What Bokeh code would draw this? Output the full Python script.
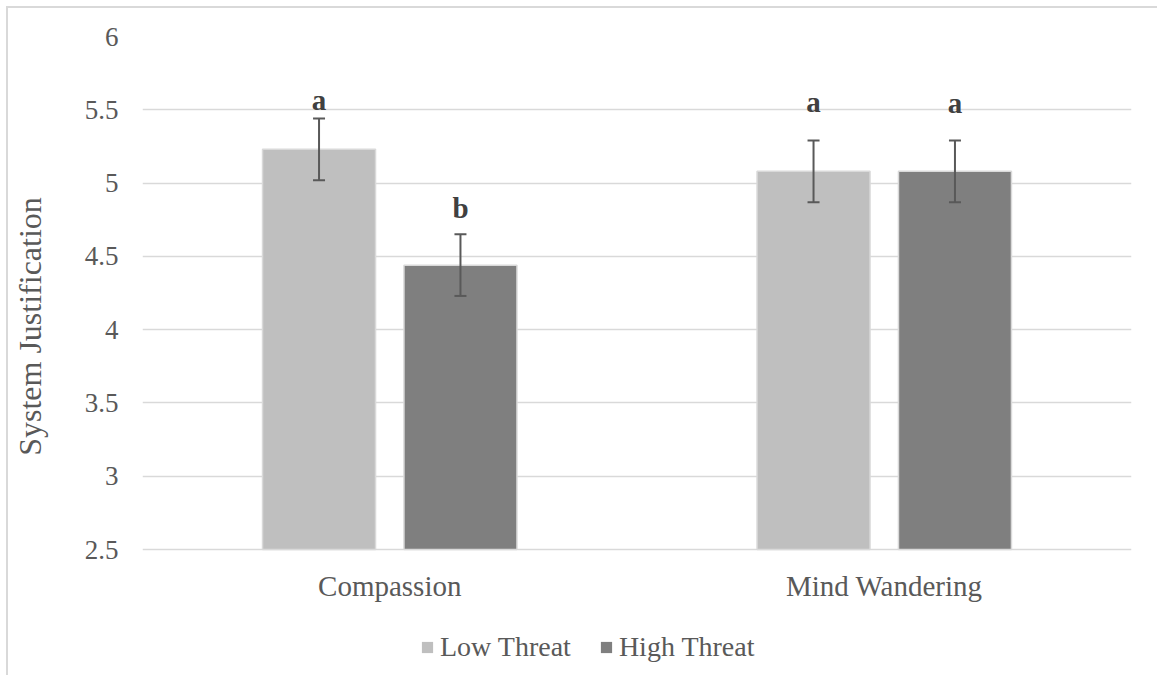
from bokeh.plotting import figure
from bokeh.layouts import column
from bokeh.models import ColumnDataSource, FixedTicker, Legend, LegendItem, Whisker, TeeHead, FactorRange, Range1d, NumeralTickFormatter
from bokeh.transform import dodge
from bokeh.core.properties import value
from bokeh.embed import file_html
from bokeh.resources import INLINE

# ---- data ----
categories = ["Compassion", "Mind Wandering"]
series = ["Low Threat", "High Threat"]
low_threat = [5.23, 5.08]
high_threat = [4.44, 5.08]
low_err = [0.21, 0.21]
high_err = [0.21, 0.21]
low_letters = ["a", "a"]
high_letters = ["b", "a"]
low_letter_y = [5.57, 5.556]
high_letter_y = [4.833, 5.543]
y_ticks = [2.5, 3, 3.5, 4, 4.5, 5, 5.5, 6]
y_axis_min = 2.5
y_axis_max = 6

FONT = "Liberation Serif"
TXT = "#595959"
LOW_C = "#BFBFBF"
HIGH_C = "#7F7F7F"
OFF = 0.143
BW = 0.2285

src_low = ColumnDataSource(dict(cat=categories, val=low_threat,
                                upper=[v + e for v, e in zip(low_threat, low_err)],
                                lower=[v - e for v, e in zip(low_threat, low_err)],
                                letter=low_letters, ly=low_letter_y))
src_high = ColumnDataSource(dict(cat=categories, val=high_threat,
                                 upper=[v + e for v, e in zip(high_threat, high_err)],
                                 lower=[v - e for v, e in zip(high_threat, high_err)],
                                 letter=high_letters, ly=high_letter_y))

# frame: top at 36px, 2.5 at 549px, frame extends to 616px (room for category labels)
px_per_unit = (549 - 36) / (y_axis_max - y_axis_min)
frame_bottom_val = y_axis_min - (616 - 549) / px_per_unit

p = figure(width=1149, height=610, x_range=FactorRange(*categories),
           y_range=Range1d(frame_bottom_val, y_axis_max), output_backend="svg",
           toolbar_location=None, x_axis_type=None,
           min_border_left=134, min_border_right=26, min_border_top=28, min_border_bottom=2)
p.outline_line_color = None
p.background_fill_color = "white"
p.border_fill_color = "white"

r_low = p.vbar(x=dodge("cat", -OFF, range=p.x_range), top="val", bottom=y_axis_min, width=BW,
               source=src_low, fill_color=LOW_C, line_color="#D9D9D9", line_width=1.5)
r_high = p.vbar(x=dodge("cat", OFF, range=p.x_range), top="val", bottom=y_axis_min, width=BW,
                source=src_high, fill_color=HIGH_C, line_color="#D9D9D9", line_width=1.5)

for src, off in ((src_low, -OFF), (src_high, OFF)):
    w = Whisker(source=src, base=dodge("cat", off, range=p.x_range), upper="upper", lower="lower",
                line_color="#595959", line_width=2, level="overlay",
                upper_head=TeeHead(size=12, line_color="#595959", line_width=2),
                lower_head=TeeHead(size=12, line_color="#595959", line_width=2))
    p.add_layout(w)
    p.text(x=dodge("cat", off, range=p.x_range), y="ly", text="letter", source=src,
           text_align="center", text_baseline="alphabetic", text_font=value(FONT),
           text_font_style="bold", text_font_size="29px", text_color="#404040")

# category labels below the baseline
p.text(x=categories, y=[y_axis_min] * len(categories), text=categories, y_offset=36,
       text_align="center", text_baseline="middle", text_font=value(FONT),
       text_font_size="29px", text_color=TXT)

p.xgrid.grid_line_color = None
p.ygrid.grid_line_color = "#D9D9D9"
p.ygrid.grid_line_width = 1.5

ax = p.yaxis[0]
ax.ticker = FixedTicker(ticks=y_ticks)
ax.formatter = NumeralTickFormatter(format="0.[0]")
ax.axis_line_color = None
ax.major_tick_line_color = None
ax.minor_tick_line_color = None
ax.major_tick_out = 0
ax.major_tick_in = 0
ax.major_label_text_font = FONT
ax.major_label_text_color = TXT
ax.major_label_text_font_size = "27px"
ax.major_label_standoff = 24
ax.axis_label = "System Justification"
ax.axis_label_text_font = FONT
ax.axis_label_text_font_size = "32px"
ax.axis_label_text_font_style = "normal"
ax.axis_label_text_color = TXT
ax.axis_label_standoff = 34

# legend strip below the chart (its frame is aligned with the chart's frame)
p2 = figure(width=1149, height=57, x_range=Range1d(0, 1), y_range=Range1d(0, 1),
            output_backend="svg", toolbar_location=None, x_axis_type=None, y_axis_type=None,
            min_border=0)
p2.outline_line_color = None
p2.xgrid.grid_line_color = None
p2.ygrid.grid_line_color = None
# swatch-only renderers, kept outside the visible range of the strip
swatch = ColumnDataSource(dict(x=[-5], top=[-5]))
d_low = p2.vbar(x="x", top="top", bottom=-6, width=0.1, source=swatch,
                fill_color=LOW_C, line_color=None)
d_high = p2.vbar(x="x", top="top", bottom=-6, width=0.1, source=swatch,
                 fill_color=HIGH_C, line_color=None)
legend = Legend(items=[LegendItem(label=series[0], renderers=[d_low]),
                       LegendItem(label=series[1], renderers=[d_high])],
                orientation="horizontal", location=(278, 12),
                label_text_font=FONT, label_text_font_size="28px", label_text_color=TXT,
                glyph_width=14, glyph_height=14, spacing=28, label_standoff=6,
                padding=0, margin=0, border_line_color=None, background_fill_alpha=0)
p2.add_layout(legend, "center")

layout = column(p, p2, spacing=0,
                styles={"margin-left": "6px", "margin-top": "6px",
                        "border-left": "2px solid #D9D9D9", "border-top": "2px solid #D9D9D9"})

open("out.html", "w").write(file_html(layout, INLINE))
